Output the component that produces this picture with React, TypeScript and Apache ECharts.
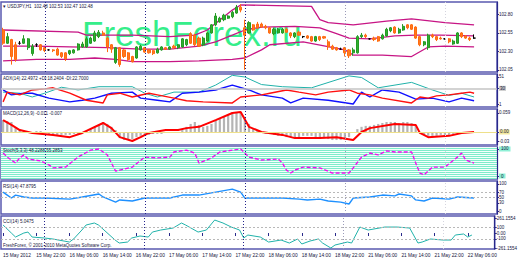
import React, { useEffect, useRef } from 'react';
import * as echarts from 'echarts';

// ---------- data ----------
const SLOT_COUNT = 119;
const TICK_LABELS = [
  '15 May 2012', '15 May 22:00', '16 May 06:00', '16 May 14:00', '16 May 22:00',
  '17 May 06:00', '17 May 14:00', '17 May 22:00', '18 May 06:00', '18 May 14:00',
  '18 May 22:00', '21 May 06:00', '21 May 14:00', '21 May 22:00', '22 May 06:00',
];
const LABEL_STEP = 8;
const DAY_STARTS = [10, 34, 58, 82, 106];

// [open, close, low, high]
const CANDLES: number[][] = [
  [102.59, 102.41, 102.39, 102.62], [102.41, 102.50, 102.40, 102.55], [102.46, 102.23, 102.12, 102.47],
  [102.39, 102.19, 102.16, 102.43], [102.41, 102.41, 102.39, 102.44], [102.41, 102.47, 102.40, 102.52],
  [102.35, 102.47, 102.32, 102.48], [102.27, 102.37, 102.24, 102.40], [102.39, 102.39, 102.36, 102.41],
  [102.39, 102.32, 102.31, 102.40], [102.35, 102.31, 102.29, 102.36], [102.32, 102.32, 102.31, 102.33],
  [102.32, 102.31, 102.29, 102.33], [102.33, 102.25, 102.24, 102.35], [102.28, 102.23, 102.21, 102.29],
  [102.28, 102.20, 102.17, 102.29], [102.27, 102.31, 102.25, 102.32], [102.28, 102.32, 102.27, 102.33],
  [102.32, 102.40, 102.31, 102.41], [102.36, 102.40, 102.35, 102.43], [102.36, 102.47, 102.35, 102.50],
  [102.41, 102.48, 102.40, 102.50], [102.44, 102.55, 102.43, 102.58], [102.50, 102.56, 102.48, 102.59],
  [102.55, 102.52, 102.51, 102.58], [102.48, 102.36, 102.29, 102.50], [102.39, 102.33, 102.28, 102.40],
  [102.15, 102.35, 102.13, 102.36], [102.35, 102.12, 102.09, 102.36], [102.32, 102.23, 102.21, 102.33],
  [102.28, 102.19, 102.17, 102.29], [102.23, 102.16, 102.15, 102.24], [102.21, 102.36, 102.20, 102.37],
  [102.32, 102.37, 102.31, 102.39], [102.35, 102.29, 102.28, 102.36], [102.32, 102.28, 102.27, 102.33],
  [102.31, 102.27, 102.25, 102.32], [102.28, 102.33, 102.27, 102.35], [102.32, 102.36, 102.31, 102.37],
  [102.35, 102.33, 102.32, 102.36], [102.33, 102.36, 102.32, 102.37], [102.37, 102.35, 102.33, 102.39],
  [102.35, 102.39, 102.33, 102.40], [102.36, 102.47, 102.35, 102.48], [102.39, 102.46, 102.37, 102.47],
  [102.54, 102.41, 102.40, 102.56], [102.52, 102.39, 102.37, 102.54], [102.48, 102.37, 102.36, 102.50],
  [102.39, 102.48, 102.37, 102.50], [102.44, 102.55, 102.43, 102.56], [102.55, 102.66, 102.54, 102.67],
  [102.66, 102.78, 102.64, 102.82], [102.70, 102.75, 102.69, 102.77], [102.73, 102.79, 102.71, 102.81],
  [102.75, 102.78, 102.74, 102.79], [102.77, 102.83, 102.75, 102.85], [102.82, 102.90, 102.81, 102.93],
  [102.90, 102.86, 102.83, 102.94], [102.62, 102.52, 102.05, 102.73], [102.55, 102.69, 102.54, 102.71],
  [102.66, 102.59, 102.58, 102.67], [102.67, 102.62, 102.60, 102.70], [102.67, 102.63, 102.62, 102.69],
  [102.64, 102.62, 102.60, 102.66], [102.62, 102.55, 102.54, 102.63], [102.54, 102.60, 102.52, 102.62],
  [102.55, 102.60, 102.54, 102.62], [102.55, 102.60, 102.54, 102.62], [102.60, 102.56, 102.55, 102.62],
  [102.55, 102.51, 102.48, 102.56], [102.50, 102.55, 102.48, 102.56], [102.56, 102.52, 102.51, 102.58],
  [102.50, 102.50, 102.48, 102.51], [102.51, 102.48, 102.47, 102.52], [102.50, 102.44, 102.43, 102.51],
  [102.44, 102.50, 102.43, 102.51], [102.50, 102.46, 102.44, 102.51], [102.50, 102.48, 102.47, 102.51],
  [102.43, 102.36, 102.32, 102.46], [102.37, 102.33, 102.32, 102.39], [102.35, 102.32, 102.31, 102.36],
  [102.33, 102.33, 102.32, 102.35], [102.35, 102.28, 102.23, 102.36], [102.32, 102.24, 102.21, 102.33],
  [102.28, 102.32, 102.24, 102.35], [102.28, 102.50, 102.27, 102.52], [102.50, 102.52, 102.48, 102.55],
  [102.52, 102.50, 102.48, 102.54], [102.47, 102.47, 102.46, 102.48], [102.48, 102.46, 102.44, 102.50],
  [102.50, 102.44, 102.43, 102.51], [102.47, 102.52, 102.46, 102.54], [102.51, 102.60, 102.50, 102.62],
  [102.58, 102.62, 102.56, 102.63], [102.63, 102.55, 102.54, 102.64], [102.55, 102.60, 102.54, 102.62],
  [102.59, 102.64, 102.58, 102.67], [102.66, 102.62, 102.60, 102.67], [102.66, 102.60, 102.59, 102.67],
  [102.63, 102.48, 102.47, 102.64], [102.50, 102.39, 102.37, 102.51], [102.39, 102.43, 102.37, 102.44],
  [102.35, 102.52, 102.32, 102.54], [102.52, 102.50, 102.48, 102.54], [102.50, 102.46, 102.44, 102.51],
  [102.48, 102.47, 102.46, 102.50], [102.47, 102.47, 102.46, 102.48], [102.47, 102.43, 102.41, 102.48],
  [102.40, 102.44, 102.39, 102.46], [102.41, 102.55, 102.40, 102.56], [102.55, 102.50, 102.48, 102.56],
  [102.51, 102.48, 102.47, 102.52], [102.48, 102.46, 102.44, 102.50], [102.48, 102.48, 102.47, 102.53],
];
const CURRENT_PRICE = 102.48;
const PRICE_TICKS = [102.05, 102.3, 102.55, 102.8];

const BB_UPPER = [[0,102.59],[18,102.56],[20,102.52],[31,102.52],[40,102.50],[46,102.52],[49,102.59],[55,102.86],[57,102.93],[74,102.91],[76,102.73],[78,102.69],[84,102.66],[92,102.71],[98,102.74],[106,102.69],[113,102.66]];
const BB_MIDDLE = [[0,102.37],[8,102.37],[16,102.36],[25,102.35],[33,102.33],[40,102.33],[47,102.37],[51,102.43],[55,102.52],[58,102.59],[62,102.63],[70,102.64],[76,102.62],[80,102.54],[83,102.48],[88,102.47],[94,102.51],[99,102.52],[105,102.52],[113,102.51]];
const BB_LOWER = [[0,102.17],[8,102.19],[16,102.19],[22,102.21],[27,102.19],[31,102.16],[40,102.16],[47,102.17],[55,102.19],[58,102.21],[62,102.32],[64,102.39],[72,102.43],[82,102.32],[84,102.25],[91,102.25],[98,102.23],[102,102.36],[106,102.37],[113,102.36]];

const ADX_MAIN = [[0,23],[4,21],[7,14],[10,21],[14,32],[18,27],[23,33],[31,33],[34,21],[37,14],[41,23],[47,23],[51,36],[55,54],[58,51],[62,37],[67,33],[74,31],[83,53],[86,50],[90,31],[98,41],[103,27],[107,17],[110,21],[113,14]];
const ADX_PLUS_DI = [[0,27],[2,18],[5,21],[7,21],[11,12],[16,5],[19,8],[22,12],[26,21],[31,23],[33,12],[37,8],[40,5],[43,21],[47,23],[51,27],[55,36],[59,27],[62,18],[67,12],[69,3],[72,12],[78,8],[84,1],[86,23],[88,14],[91,27],[95,23],[99,10],[103,12],[107,5],[110,12],[113,7]];
const ADX_MINUS_DI = [[0,5],[1,23],[4,18],[7,27],[10,29],[12,31],[16,21],[20,8],[24,3],[25,18],[28,21],[31,14],[35,21],[37,18],[41,12],[44,7],[48,5],[55,3],[57,14],[62,18],[64,21],[68,27],[71,23],[75,18],[78,23],[83,27],[85,21],[88,18],[91,12],[98,3],[100,14],[102,12],[104,16],[107,18],[110,21],[112,23],[113,21]];
const ADX_LEVEL = 30;
const ADX_TICKS = [1, 30, 51];

const MACD_HIST = [
  0.037, 0.034, 0.031, 0.012, 0.006, 0.003, 0, -0.003, 0.003, 0.003,
  -0.003, -0.006, -0.006, -0.009, -0.009, -0.009, -0.009, -0.006, -0.006, -0.003,
  0.003, 0.009, 0.016, 0.022, 0.031, 0.025, 0.016, 0.006, -0.019, -0.025,
  -0.025, -0.022, -0.016, -0.012, -0.009, -0.009, -0.006, -0.006, -0.006, -0.003,
  0, -0.003, 0, 0.006, 0.016, 0.025, 0.031, 0.022, 0.016, 0.019,
  0.025, 0.037, 0.043, 0.047, 0.053, 0.056, 0.059, 0.059, 0.047, 0.025,
  0.012, 0.003, -0.003, -0.006, -0.006, -0.009, -0.012, -0.012, -0.016, -0.016,
  -0.016, -0.016, -0.012, -0.012, -0.012, -0.016, -0.016, -0.019, -0.022, -0.025,
  -0.025, -0.025, -0.022, -0.016, -0.003, 0.009, 0.016, 0.019, 0.019, 0.022,
  0.025, 0.028, 0.031, 0.031, 0.031, 0.028, 0.031, 0.031, 0.028, 0.019,
  0, -0.009, -0.012, -0.012, -0.012, -0.009, -0.009, -0.009, -0.006, -0.003,
  0, 0, 0, 0,
];
const MACD_SIGNAL = [[0,0.037],[2,0.022],[4,0.006],[7,-0.003],[12,-0.009],[16,-0.016],[19,-0.003],[24,0.028],[26,0.012],[28,-0.016],[31,-0.028],[33,-0.016],[35,-0.003],[39,0.006],[42,0.006],[44,0.012],[47,0.016],[51,0.037],[55,0.059],[57,0.062],[59,0.016],[62,0],[67,-0.009],[70,-0.019],[76,-0.019],[80,-0.016],[84,-0.025],[86,0],[88,0.012],[94,0.025],[99,0.022],[100,-0.003],[102,-0.016],[107,-0.012],[110,-0.003],[113,0]];
const MACD_TICKS = [-0.03, 0, 0.059];

const STOCH_MAIN = [[0,85],[1,70],[3,48],[4,67],[5,78],[6,63],[9,56],[11,41],[12,30],[15,33],[18,70],[21,96],[23,100],[25,78],[26,48],[27,18],[28,22],[31,33],[34,70],[37,67],[40,70],[41,89],[44,96],[46,85],[47,48],[50,67],[52,89],[57,100],[59,70],[62,59],[66,63],[67,48],[68,22],[69,11],[70,22],[72,33],[76,30],[79,11],[83,11],[84,30],[86,70],[88,85],[90,78],[92,93],[94,89],[98,89],[99,48],[100,11],[101,4],[103,33],[106,33],[109,70],[110,85],[111,59],[113,48]];
const STOCH_TICKS = [0, 100];

const RSI = [[0,70],[1,59],[2,48],[3,59],[5,52],[7,48],[10,48],[16,44],[19,52],[23,63],[24,52],[27,33],[28,41],[31,37],[34,48],[40,48],[43,59],[47,59],[51,70],[55,81],[57,70],[58,48],[62,48],[67,48],[71,44],[73,41],[76,44],[78,37],[81,33],[83,26],[84,48],[88,52],[91,59],[94,56],[95,63],[98,56],[99,41],[101,37],[103,48],[107,44],[109,52],[113,48]];
const RSI_LEVELS = [70, 50];
const RSI_TICKS = [0, 30, 50, 70, 100];

const CCI = [[0,139],[2,0],[3,-70],[5,0],[6,17],[7,-70],[10,-87],[12,-104],[16,-157],[17,-104],[19,52],[20,139],[22,174],[23,139],[27,-122],[28,-174],[30,-157],[31,-87],[33,-52],[35,-70],[36,17],[38,52],[41,87],[43,174],[44,139],[47,17],[49,52],[51,226],[53,174],[55,104],[57,52],[58,-87],[59,-35],[62,-70],[64,-157],[67,-122],[69,-174],[71,-104],[72,-191],[74,-139],[76,-104],[77,-174],[79,-261],[80,-209],[83,-157],[84,-174],[86,104],[88,52],[92,104],[95,104],[98,87],[100,-174],[101,-157],[103,-104],[106,-122],[108,-122],[109,-35],[111,-17],[112,-70],[113,-35]];
const CCI_LEVELS = [100, -100];
const CCI_TICKS = [-261.1554, -100, 0, 100, 261.1554];

const TITLE_MAIN = '\u25BE USDJPY,H1  102.48 102.53 102.47 102.48';
const TITLE_ADX = 'ADX(14) 22.4972 +DI:18.2404 -DI:22.7000';
const TITLE_MACD = 'MACD(12,26,9) -0.011 -0.007';
const TITLE_STOCH = 'Stoch(5,3,3) 48.2288 55.2853';
const TITLE_RSI = 'RSI(14) 47.8795';
const TITLE_CCI = 'CCI(14) 5.0475';
const COPYRIGHT = 'FreshForex, \u00A9 2001-2010 MetaQuotes Software Corp.';
const WATERMARK = 'FreshForex.ru';

// ---------- layout / style ----------
const FONT = '"Liberation Sans", Arial, sans-serif';
const TXT = '#14143c';
const AXIS = '#28288a';
const SMALL = 4.5;
const PANES = [
  { top: 2, height: 70 },
  { top: 74, height: 33 },
  { top: 109, height: 36 },
  { top: 147, height: 32 },
  { top: 181, height: 33 },
  { top: 216, height: 33 },
];
const SEP_COLORS = ['#22228a', '#22228a', '#22228a', '#9a9ab8', '#d4d4de'];
const STRIPES = 32;

const daySeparators = () =>
  DAY_STARTS.map((d, k) => ({
    xAxis: d,
    lineStyle: { color: SEP_COLORS[k], type: [1, 2], width: 1 },
  }));

function yAxisFor(gridIndex: number, min: number, max: number, ticks: number[], formatter?: any) {
  return {
    type: 'value',
    gridIndex,
    position: 'right',
    min,
    max,
    z: 5,
    splitLine: { show: false },
    axisLine: { show: true, lineStyle: { color: AXIS, width: 1.2 } },
    axisTick: { show: true, customValues: ticks, length: 2, lineStyle: { color: AXIS } },
    axisLabel: {
      customValues: ticks,
      fontSize: SMALL,
      color: TXT,
      margin: 2,
      fontFamily: FONT,
      formatter,
      rich: {
        g: { backgroundColor: '#c8c8c8', fontSize: SMALL, color: TXT, padding: [0, 1] },
        y: { backgroundColor: '#f3e9a0', fontSize: SMALL, color: TXT, padding: [0, 1] },
        c: { backgroundColor: '#8ff0d6', fontSize: SMALL, color: TXT, padding: [0, 2] },
      },
    },
  };
}

function lineSeries(x: number, y: number, data: number[][], color: string, width: number, extra: any = {}) {
  return {
    type: 'line',
    xAxisIndex: x,
    yAxisIndex: y,
    data,
    symbol: 'none',
    lineStyle: { color, width },
    z: 3,
    ...extra,
  };
}

const mark = (items: any[]) => ({
  silent: true,
  symbol: ['none', 'none'],
  label: { show: false },
  data: items,
});

export default function App() {
  const ref = useRef<HTMLDivElement>(null);
  useEffect(() => {
    const chart = echarts.init(ref.current!, undefined, { renderer: 'svg' });
    const categories = Array.from({ length: SLOT_COUNT }, (_, i) => String(i));

    const xAxes = PANES.map((_, gi) => {
      const last = gi === PANES.length - 1;
      return {
        type: 'category',
        gridIndex: gi,
        data: categories,
        boundaryGap: true,
        axisLine: { show: false },
        axisTick: last
          ? { show: true, alignWithLabel: true, interval: LABEL_STEP - 1, length: 3, lineStyle: { color: AXIS } }
          : { show: false },
        axisLabel: last
          ? {
              show: true,
              interval: LABEL_STEP - 1,
              align: 'left',
              fontSize: 4.8,
              color: TXT,
              margin: 4,
              fontFamily: FONT,
              formatter: (_v: string, idx: number) =>
                idx % LABEL_STEP === 0 ? TICK_LABELS[idx / LABEL_STEP] ?? '' : '',
            }
          : { show: false },
        splitLine: { show: false },
      };
    });

    const yAxes = [
      yAxisFor(0, 102.02, 102.97, PRICE_TICKS, (v: number) => v.toFixed(2)),
      yAxisFor(1, -4.5, 56.5, ADX_TICKS, (v: number) => (v === ADX_LEVEL ? `{g|${v}}` : String(v))),
      yAxisFor(2, -0.0404, 0.0714, MACD_TICKS, (v: number) => (v === 0 ? '{y|0.00}' : String(v))),
      yAxisFor(3, -11.1, 107.4, STOCH_TICKS, (v: number) => `{c|${v}}`),
      {
        type: 'value',
        gridIndex: 3,
        position: 'left',
        min: 0,
        max: STRIPES,
        interval: 1,
        axisLine: { show: false },
        axisTick: { show: false },
        axisLabel: { show: false },
        splitLine: { show: false },
        splitArea: { show: true, areaStyle: { color: ['#7eecca', '#f4fffb'] } },
      },
      yAxisFor(4, -11.1, 111.1, RSI_TICKS, (v: number) => String(v)),
      yAxisFor(5, -278, 296, CCI_TICKS, (v: number) => (v === 0 ? '0.00' : String(v))),
    ];

    const option: any = {
      animation: false,
      backgroundColor: '#ffffff',
      textStyle: { fontFamily: FONT },
      grid: PANES.map((p) => ({
        left: 1,
        width: 496,
        top: p.top,
        height: p.height,
        show: true,
        borderColor: '#5a5ab0',
        borderWidth: 1.5,
      })),
      xAxis: xAxes,
      yAxis: yAxes,
      graphic: [
        {
          type: 'text',
          z: 0,
          style: { text: WATERMARK, x: 82, y: 16, fill: '#35ee8a', font: `35px ${FONT}`, align: 'left', verticalAlign: 'top' },
        },
        ...[
          [TITLE_MAIN, 6],
          [TITLE_ADX, 78],
          [TITLE_MACD, 113],
          [TITLE_STOCH, 150],
          [TITLE_RSI, 186],
          [TITLE_CCI, 221],
          [COPYRIGHT, 245],
        ].map(([t, y]) => ({
          type: 'text',
          z: 20,
          style: { text: t, x: 3, y, fill: TXT, font: `${SMALL}px ${FONT}`, align: 'left', verticalAlign: 'middle' },
        })),
      ],
      series: [
        {
          type: 'candlestick',
          xAxisIndex: 0,
          yAxisIndex: 0,
          data: CANDLES,
          barWidth: 2.6,
          z: 4,
          itemStyle: {
            color: '#2fb02f',
            color0: '#ff7a1e',
            borderColor: '#249a24',
            borderColor0: '#ff6a10',
            borderColorDoji: '#000000',
            borderWidth: 1,
          },
          markLine: {
            silent: true,
            symbol: ['none', 'none'],
            data: [
              ...daySeparators(),
              {
                yAxis: CURRENT_PRICE,
                lineStyle: { opacity: 0 },
                label: {
                  show: true,
                  position: 'end',
                  distance: 4,
                  formatter: CURRENT_PRICE.toFixed(2),
                  backgroundColor: '#1c1c80',
                  color: '#ffffff',
                  fontSize: SMALL,
                  padding: [1, 2],
                  fontFamily: FONT,
                },
              },
            ],
            label: { show: false },
          },
        },
        lineSeries(0, 0, BB_UPPER, '#c71585', 1.3),
        lineSeries(0, 0, BB_MIDDLE, '#c71585', 1.3),
        lineSeries(0, 0, BB_LOWER, '#c71585', 1.3),

        lineSeries(1, 1, ADX_MAIN, '#20b2aa', 1, {
          markLine: mark([...daySeparators(), { yAxis: ADX_LEVEL, lineStyle: { color: '#c4c4c4', width: 1.6, type: 'solid' } }]),
        }),
        lineSeries(1, 1, ADX_PLUS_DI, '#1010ff', 1.4),
        lineSeries(1, 1, ADX_MINUS_DI, '#ff1010', 1.4),

        {
          type: 'bar',
          xAxisIndex: 2,
          yAxisIndex: 2,
          data: MACD_HIST,
          barWidth: 2.2,
          itemStyle: { color: '#b4b4b4' },
          z: 2,
          markLine: mark([...daySeparators(), { yAxis: 0, lineStyle: { color: '#eee08a', width: 1, type: 'solid' } }]),
        },
        lineSeries(2, 2, MACD_SIGNAL, '#ff0000', 2),

        lineSeries(3, 3, STOCH_MAIN, '#ff00ff', 1.4, {
          lineStyle: { color: '#ee10ee', width: 1.4, type: [4, 2] },
          markLine: mark(daySeparators()),
        }),
        { type: 'line', xAxisIndex: 3, yAxisIndex: 4, data: [], symbol: 'none' },

        lineSeries(4, 5, RSI, '#1e90ff', 1.4, {
          markLine: mark([
            ...daySeparators(),
            ...RSI_LEVELS.map((v) => ({ yAxis: v, lineStyle: { color: '#b8b8b8', width: 1, type: [2, 2] } })),
          ]),
        }),

        lineSeries(5, 6, CCI, '#20b2aa', 1, {
          markLine: mark([
            ...daySeparators(),
            ...CCI_LEVELS.map((v) => ({ yAxis: v, lineStyle: { color: '#b8b8b8', width: 1, type: [2, 2] } })),
          ]),
        }),
      ],
    };
    chart.setOption(option);
    return () => chart.dispose();
  }, []);
  return (
    <div
      ref={ref}
      style={{ position: 'absolute', left: 0, top: 0, width: 520, height: 260, background: '#ffffff' }}
    />
  );
}
